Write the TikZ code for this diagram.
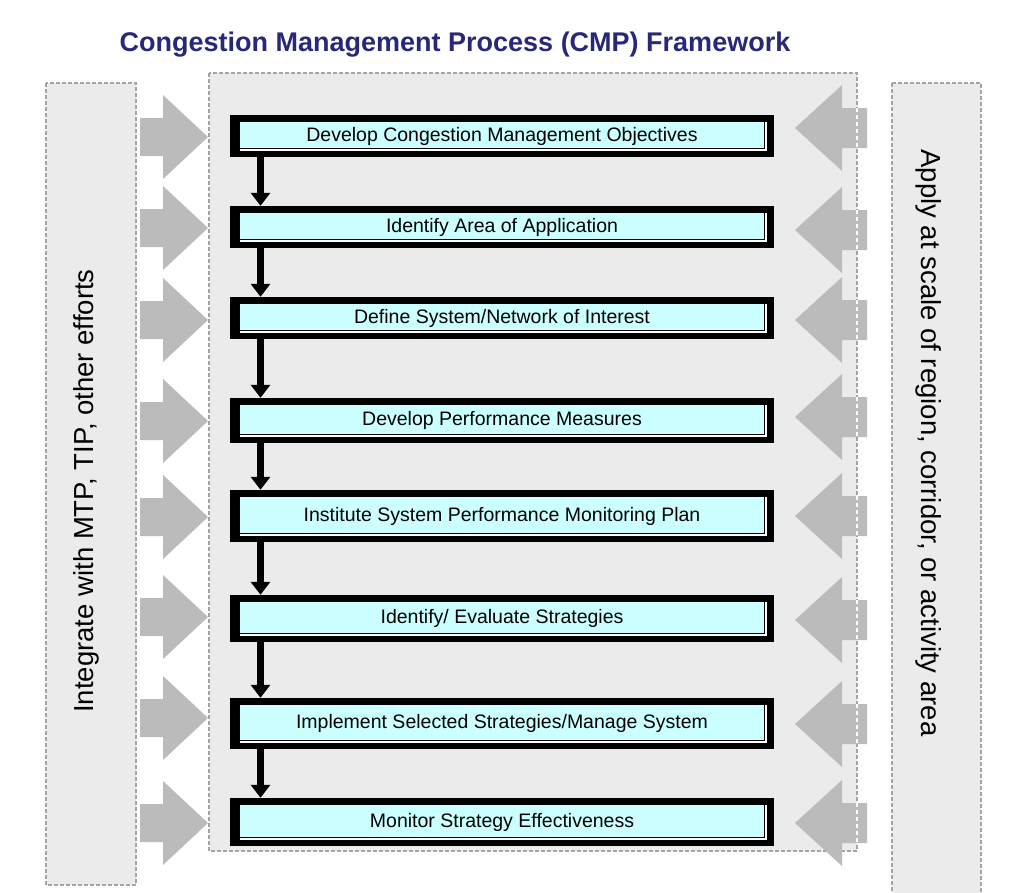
\documentclass[tikz,border=0pt]{standalone}
\usepackage{fontspec}
\setmainfont{Liberation Sans}
\usetikzlibrary{arrows.meta}
\definecolor{panelgray}{HTML}{EBEBEB}
\definecolor{bordergray}{HTML}{A4A4A4}
\definecolor{arrowgray}{HTML}{BBBBBB}
\definecolor{boxcyan}{HTML}{CCFFFF}
\definecolor{titleblue}{RGB}{40,40,120}
\begin{document}
\begin{tikzpicture}[x=1pt,y=-1pt,
  panel/.style={fill=panelgray,draw=bordergray,line width=1.3pt,dash pattern=on 4pt off 2pt},
  blockarrow/.style={fill=arrowgray},
  stepbox/.style={fill=black,minimum width=544pt,inner sep=0pt,
    font=\fontsize{19.5}{20}\selectfont,
    path picture={
      \fill[boxcyan] ([shift={(10pt,-7pt)}]path picture bounding box.north west)
        rectangle ([shift={(-10pt,9pt)}]path picture bounding box.south east);
      \draw[white,line width=1.4pt]
        ([shift={(-8pt,-7pt)}]path picture bounding box.north east)
        -- ([shift={(-8pt,7pt)}]path picture bounding box.south east)
        -- ([shift={(10pt,7pt)}]path picture bounding box.south west);
    }},
  flow/.style={line width=7pt,-{Triangle[width=19pt,length=13pt]}},
  sidetext/.style={font=\fontsize{27.5}{28}\selectfont,inner sep=0pt},
  titletext/.style={font=\fontsize{27}{28}\selectfont\bfseries,text=titleblue,inner sep=0pt}
]
\useasboundingbox (0,0) rectangle (1014,892);
\fill[white] (0,0) rectangle (1014,892);

% panels
\path[panel] (46,83) rectangle (136,885);
\path[panel] (209,73) rectangle (857,851);
\path[panel] (892,83) rectangle (981,905);

% title
\node[titletext] (title) at (455,45) {Congestion Management Process (CMP) Framework};

% side texts
\node[sidetext,rotate=90] (lefttext) at (86,491) {Integrate with MTP, TIP, other efforts};
\node[sidetext,rotate=-90] (righttext) at (929,443) {Apply at scale of region, corridor, or activity area};

% left block arrows
\foreach \y in {137,228,320,421,517,617,718,823}{
  \fill[blockarrow] (140,\y-19) -- (163,\y-19) -- (163,\y-42) -- (208,\y)
    -- (163,\y+42) -- (163,\y+19) -- (140,\y+19) -- cycle;
}
% right block arrows
\foreach \y in {128,230,320,417,516,620,724,823}{
  \fill[blockarrow] (867,\y-20) -- (842,\y-20) -- (842,\y-43) -- (795,\y)
    -- (842,\y+43) -- (842,\y+20) -- (867,\y+20) -- cycle;
  \draw[white,line width=1.3pt,dash pattern=on 4pt off 3pt] (857,\y-20) -- (857,\y+20);
}

% steps
\node[stepbox,minimum height=42pt] (b1) at (502,136) {Develop Congestion Management Objectives};
\node[stepbox,minimum height=42pt] (b2) at (502,227) {Identify Area of Application};
\node[stepbox,minimum height=42pt] (b3) at (502,318) {Define System/Network of Interest};
\node[stepbox,minimum height=45pt] (b4) at (502,420.5) {Develop Performance Measures};
\node[stepbox,minimum height=52pt] (b5) at (502,516) {Institute System Performance Monitoring Plan};
\node[stepbox,minimum height=47pt] (b6) at (502,618.5) {Identify/ Evaluate Strategies};
\node[stepbox,minimum height=51pt] (b7) at (502,723.5) {Implement Selected Strategies/Manage System};
\node[stepbox,minimum height=48pt] (b8) at (502,822) {Monitor Strategy Effectiveness};

% flow connectors
\coordinate (ax) at (260.5,0);
\foreach \a/\b in {b1/b2,b2/b3,b3/b4,b4/b5,b5/b6,b6/b7,b7/b8}{
  \draw[flow] (\a.south -| ax) -- (\b.north -| ax);
}
\end{tikzpicture}
\end{document}
